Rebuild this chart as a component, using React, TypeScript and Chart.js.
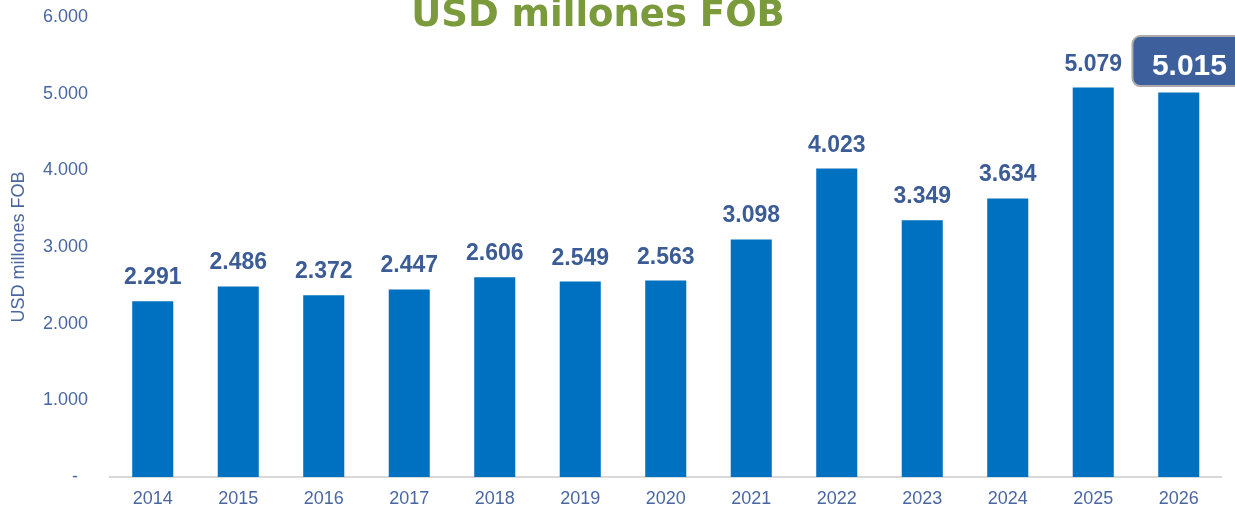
import React, { useEffect, useRef } from 'react';
import { Chart, registerables } from 'chart.js';

Chart.register(...registerables);

const categories = ['2014', '2015', '2016', '2017', '2018', '2019', '2020', '2021', '2022', '2023', '2024', '2025', '2026'];
const exportValues = [2291, 2486, 2372, 2447, 2606, 2549, 2563, 3098, 4023, 3349, 3634, 5079, 5015];
const yMin = 0;
const yMax = 6000;
const yStep = 1000;
const chartTitle = 'USD millones FOB';
const yAxisTitle = 'USD millones FOB';
const highlightIndex = 12;

const fmt = (v: number) =>
  v === 0 ? '-  ' : String(Math.round(v)).replace(/\B(?=(\d{3})+(?!\d))/g, '.');

const FONT = '"Liberation Sans", Arial, sans-serif';
const TICK_COLOR = '#4A67A1';
const LABEL_COLOR = '#3C5C96';

const titlePlugin = {
  id: 'topTitle',
  afterDraw(chart: any) {
    const ctx = chart.ctx;
    ctx.save();
    ctx.font = 'bold 37px "DejaVu Sans", sans-serif';
    ctx.fillStyle = '#7A9A3C';
    ctx.textAlign = 'center';
    ctx.textBaseline = 'alphabetic';
    ctx.fillText(chartTitle, 598, 25.5);
    ctx.restore();
  },
};

const labelPlugin = {
  id: 'barLabels',
  afterDatasetsDraw(chart: any) {
    const ctx = chart.ctx;
    const meta = chart.getDatasetMeta(0);
    meta.data.forEach((bar: any, i: number) => {
      const text = fmt(exportValues[i]);
      ctx.save();
      if (i === highlightIndex) {
        const cx = bar.x + 10.7;
        const boxW = 114;
        const boxH = 50;
        const top = bar.y - 56.5;
        ctx.beginPath();
        (ctx as any).roundRect(cx - boxW / 2, top, boxW, boxH, 8);
        ctx.fillStyle = '#3D5F9C';
        ctx.fill();
        ctx.lineWidth = 2;
        ctx.strokeStyle = '#ABABAB';
        ctx.stroke();
        ctx.font = `bold 30px ${FONT}`;
        ctx.fillStyle = '#FFFFFF';
        ctx.textAlign = 'center';
        ctx.textBaseline = 'alphabetic';
        ctx.fillText(text, cx, bar.y - 18);
      } else {
        ctx.font = `bold 23px ${FONT}`;
        ctx.fillStyle = LABEL_COLOR;
        ctx.textAlign = 'center';
        ctx.textBaseline = 'alphabetic';
        ctx.fillText(text, bar.x, bar.y - 17);
      }
      ctx.restore();
    });
  },
};

export default function App() {
  const canvasRef = useRef<HTMLCanvasElement | null>(null);

  useEffect(() => {
    if (!canvasRef.current) return;
    const chart = new Chart(canvasRef.current, {
      type: 'bar',
      data: {
        labels: categories,
        datasets: [
          {
            data: exportValues,
            backgroundColor: '#0070C0',
            borderWidth: 0,
            barPercentage: 0.48,
            categoryPercentage: 1,
          },
        ],
      },
      options: {
        animation: false,
        responsive: true,
        maintainAspectRatio: false,
        layout: { padding: { top: 17, right: 13.5, bottom: 0, left: 0 } },
        plugins: {
          legend: { display: false },
          tooltip: { enabled: false },
          title: { display: false },
        },
        scales: {
          x: {
            grid: { display: false, drawTicks: false },
            border: { display: true, color: '#D9D9D9', width: 2 },
            ticks: {
              color: TICK_COLOR,
              font: { family: FONT, size: 18 },
              padding: 11,
              maxRotation: 0,
              autoSkip: false,
            },
            afterFit: (scale: any) => {
              scale.height = 34;
              scale.paddingLeft = 0;
              scale.paddingRight = 0;
            },
          },
          y: {
            min: yMin,
            max: yMax,
            grid: { display: false, drawTicks: false },
            border: { display: false },
            ticks: {
              stepSize: yStep,
              color: TICK_COLOR,
              font: { family: FONT, size: 18 },
              padding: 22,
              callback: (v: any) => fmt(Number(v)),
            },
            title: {
              display: true,
              text: yAxisTitle,
              color: TICK_COLOR,
              font: { family: FONT, size: 18 },
              padding: { top: 8, bottom: 0 },
            },
            afterFit: (scale: any) => {
              scale.width = 110;
              scale.paddingTop = 0;
              scale.paddingBottom = 0;
            },
          },
        },
      },
      plugins: [labelPlugin, titlePlugin],
    });
    return () => chart.destroy();
  }, []);

  return (
    <div style={{ position: 'fixed', left: 0, top: 0, width: 1235, height: 511, background: '#FFFFFF' }}>
      <canvas ref={canvasRef} />
    </div>
  );
}
